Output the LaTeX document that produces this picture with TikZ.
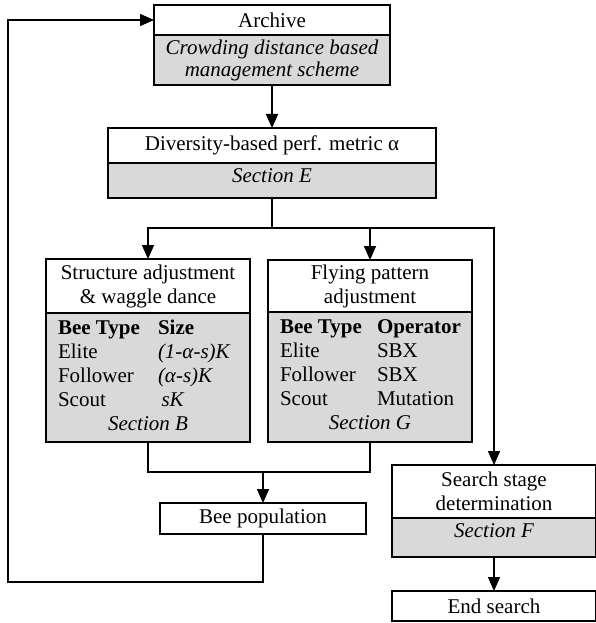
\documentclass[tikz,border=0pt]{standalone}
\usepackage{fontspec}
\setmainfont{Liberation Serif}
\usetikzlibrary{arrows.meta, positioning}
\definecolor{cellgray}{HTML}{D9D9D9}
\newcommand\figfont{\fontsize{21}{24}\selectfont}

\begin{document}
\begin{tikzpicture}[x=1pt, y=-1pt, font=\figfont,
  hdr/.style={rectangle, draw=black, line width=1.3pt, fill=white,
    inner sep=0pt, outer sep=0pt, align=center},
  cell/.style={rectangle, draw=black, line width=1.3pt, fill=cellgray,
    inner sep=0pt, outer sep=0pt, align=center},
  it/.style={font=\figfont\itshape},
  onerow/.style={text height=19pt, text depth=#1},
  tr/.style={-{Triangle[length=14pt, width=12pt]}, line width=1.6pt},
  ln/.style={line width=1.6pt}]
  \useasboundingbox (0,0) rectangle (595,623);

  % archive
  \node[hdr, minimum width=236pt, minimum height=30pt, anchor=north] (arc) at (272,5) {Archive};
  \node[cell, it, minimum width=236pt, minimum height=50pt, anchor=north] (arcs) at (arc.south)
    {Crowding distance based\\[-2pt]management scheme};

  % diversity metric
  \node[hdr, minimum width=328pt, minimum height=35pt, anchor=north] (div) at (272,128)
    {Diversity-based perf. metric α};
  \node[cell, it, onerow=16pt, minimum width=328pt, anchor=north] (divs) at (div.south) {Section E};

  % structure adjustment
  \node[hdr, minimum width=204pt, minimum height=54pt, anchor=north] (str) at (148,259)
    {Structure adjustment\\\& waggle dance};
  \node[cell, minimum width=204pt, minimum height=129pt, anchor=north] (strs) at (str.south)
    {\begin{tabular}{@{}p{100pt}@{}p{80pt}@{}}
      \textbf{Bee Type} & \textbf{Size}\\
      Elite & \textit{(1-α-s)K}\\
      Follower & \textit{(α-s)K}\\
      Scout & \textit{\,sK}\\
      \multicolumn{2}{@{}c@{}}{\textit{Section B}}
    \end{tabular}};

  % flying pattern
  \node[hdr, minimum width=204pt, minimum height=52pt, anchor=north] (fly) at (370,260)
    {Flying pattern\\adjustment};
  \node[cell, minimum width=204pt, minimum height=130pt, anchor=north] (flys) at (fly.south)
    {\begin{tabular}{@{}p{97pt}@{}p{83pt}@{}}
      \textbf{Bee Type} & \textbf{Operator}\\
      Elite & SBX\\
      Follower & SBX\\
      Scout & Mutation\\
      \multicolumn{2}{@{}c@{}}{\textit{Section G}}
    \end{tabular}};

  % population
  \node[hdr, minimum width=206pt, minimum height=31pt, anchor=north] (bee) at (263,503) {Bee population};

  % search stage
  \node[hdr, minimum width=204pt, minimum height=53pt, anchor=north] (srch) at (494,465)
    {Search stage\\determination};
  \node[cell, it, onerow=20pt, minimum width=204pt, anchor=north] (srchs) at (srch.south) {Section F};
  \node[hdr, minimum width=204pt, minimum height=30pt, anchor=north] (stop) at (494,591) {End search};

  \coordinate (split) at (272,228);
  \coordinate (merge) at (263,472);
  \coordinate (loop) at (8,582);

  \draw[tr] (arcs.south) -- (div.north);
  \draw[ln] (divs.south) -- (split);
  \draw[tr] (split) -| (str.north);
  \draw[tr] (split) -| (fly.north);
  \draw[tr] (split) -| (srch.north);
  \draw[ln] (strs.south) |- (merge);
  \draw[ln] (flys.south) |- (merge);
  \draw[tr] (merge) -- (bee.north);
  \draw[tr] (bee.south) |- (loop) |- (arc.west);
  \draw[tr] (srchs.south) -- (stop.north);
\end{tikzpicture}
\end{document}
